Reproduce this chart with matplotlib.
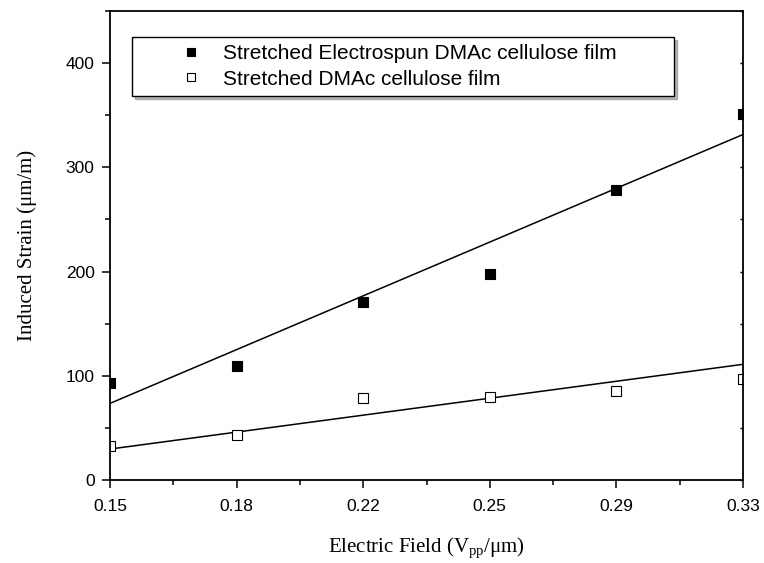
import numpy as np
import matplotlib
matplotlib.use("Agg")
import matplotlib.pyplot as plt
from matplotlib.ticker import MultipleLocator, FixedLocator

# values
field_labels = ["0.15", "0.18", "0.22", "0.25", "0.29", "0.33"]
strain_electrospun = [92.7, 109.3, 170.4, 197.5, 278.7, 351.6]
strain_film = [32.6, 42.9, 78.3, 79.9, 85.6, 96.8]
# linear fit lines (value at first and last field)
fit_electrospun = [73.5, 331.5]
fit_film = [29.7, 111.0]

label_electrospun = "Stretched Electrospun DMAc cellulose film"
label_film = "Stretched DMAc cellulose film"

plt.rcParams["font.family"] = "Liberation Sans"
plt.rcParams["mathtext.fontset"] = "custom"
plt.rcParams["mathtext.rm"] = "Liberation Serif"
plt.rcParams["mathtext.it"] = "Liberation Serif:italic"

x = np.arange(len(field_labels))
x_fit = [x[0], x[-1]]

fig = plt.figure(figsize=(7.64, 5.63), dpi=100)
ax = fig.add_axes([110 / 764, 1 - 480 / 563, 633 / 764, 469 / 563])

ax.plot(x_fit, fit_electrospun, "-", color="black", lw=1.1)
ax.plot(x_fit, fit_film, "-", color="black", lw=1.1)
ax.plot(x, strain_electrospun, "s", color="black", ms=7.5, mew=0.8,
        label=label_electrospun)
ax.plot(x, strain_film, "s", mfc="white", mec="black", ms=7.5, mew=0.8,
        label=label_film)

ax.set_xlim(0, len(field_labels) - 1)
ax.set_ylim(0, 450)
ax.set_xticks(x)
ax.set_xticklabels(field_labels)
ax.xaxis.set_minor_locator(FixedLocator(x[:-1] + 0.5))
ax.yaxis.set_major_locator(MultipleLocator(100))
ax.yaxis.set_minor_locator(MultipleLocator(50))

for side in ["left", "right", "top", "bottom"]:
    ax.spines[side].set_linewidth(1.3)

ax.tick_params(which="both", direction="out", width=1.1, labelsize=12.5,
               top=False, right=False)
ax.tick_params(which="major", length=6, pad=5)
ax.tick_params(axis="x", which="major", pad=8)
ax.tick_params(which="minor", length=3.5)

# small inward ticks on the right spine
ax_r = ax.secondary_yaxis("right")
ax_r.yaxis.set_major_locator(MultipleLocator(100))
ax_r.yaxis.set_minor_locator(MultipleLocator(50))
ax_r.tick_params(which="both", direction="in", length=2.5, width=1.0,
                 labelright=False)
ax_r.spines["right"].set_visible(False)

ax.set_xlabel("Electric Field (V$_{\\mathrm{pp}}$/\u03bcm)", fontsize=15,
              family="Liberation Serif", labelpad=15)
ax.set_ylabel("Induced Strain (\u03bcm/m)", fontsize=15,
              family="Liberation Serif", labelpad=21)

leg = ax.legend(loc="upper left", bbox_to_anchor=(0.0348, 0.5, 0.856, 0.4446),
                mode="expand", borderaxespad=0, fontsize=15, numpoints=1,
                markerscale=0.75, handlelength=4.97, handletextpad=-0.95,
                borderpad=0.35, labelspacing=0.3, fancybox=False,
                shadow={"color": "0.45"}, frameon=True, edgecolor="black")
leg.get_frame().set_linewidth(1.0)

fig.savefig("out.png", dpi=100)
